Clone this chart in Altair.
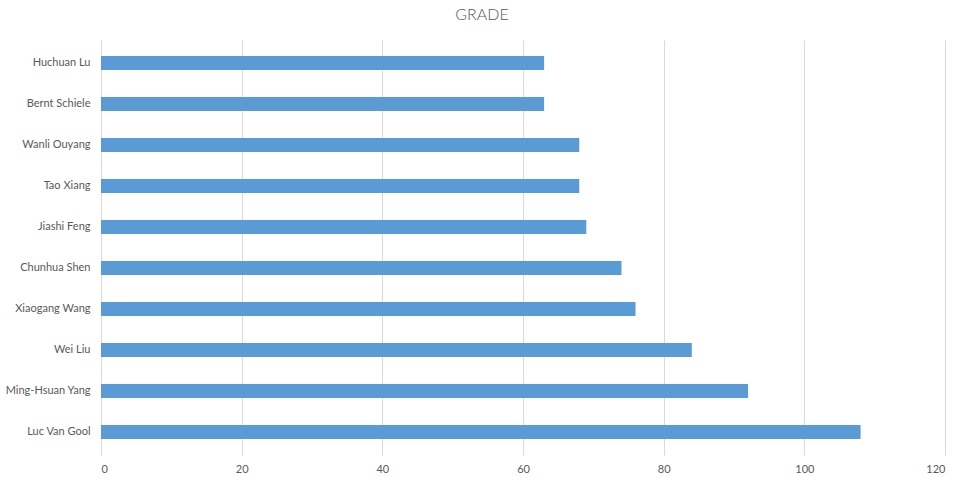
import altair as alt
import pandas as pd

names = ["Huchuan Lu", "Bernt Schiele", "Wanli Ouyang", "Tao Xiang", "Jiashi Feng",
         "Chunhua Shen", "Xiaogang Wang", "Wei Liu", "Ming-Hsuan Yang", "Luc Van Gool"]
grades = [63, 63, 68, 68, 69, 74, 76, 84, 92, 108]
x_ticks = [0, 20, 40, 60, 80, 100, 120]

df = pd.DataFrame({"name": names, "grade": grades})

FONT = "Lato"
GREY = "#595959"

chart = alt.Chart(df).mark_bar(color="#5B9BD5").encode(
    x=alt.X("grade:Q",
            scale=alt.Scale(domain=[0, 120], nice=False),
            axis=alt.Axis(values=x_ticks, title=None, domain=False, ticks=False,
                          grid=True, gridColor="#D9D9D9", gridWidth=1,
                          labelFont=FONT, labelFontSize=11, labelColor=GREY,
                          labelPadding=8)),
    y=alt.Y("name:N", sort=names,
            scale=alt.Scale(paddingInner=0.66, paddingOuter=0.39),
            axis=alt.Axis(title=None, domain=False, ticks=False, grid=False,
                          labelFont=FONT, labelFontSize=11, labelColor=GREY,
                          labelPadding=11)),
).properties(
    width=844,
    height=415,
    title=alt.TitleParams("GRADE", font=FONT, fontSize=16, fontWeight=300,
                          color=GREY, anchor="middle", offset=17, dx=-41),
    autosize=alt.AutoSizeParams(type="none"),
    padding={"left": 101, "top": 40, "right": 18, "bottom": 23},
    background="white",
).configure_view(stroke=None)

chart.save("out.html", embed_options={"renderer": "svg", "actions": False})
